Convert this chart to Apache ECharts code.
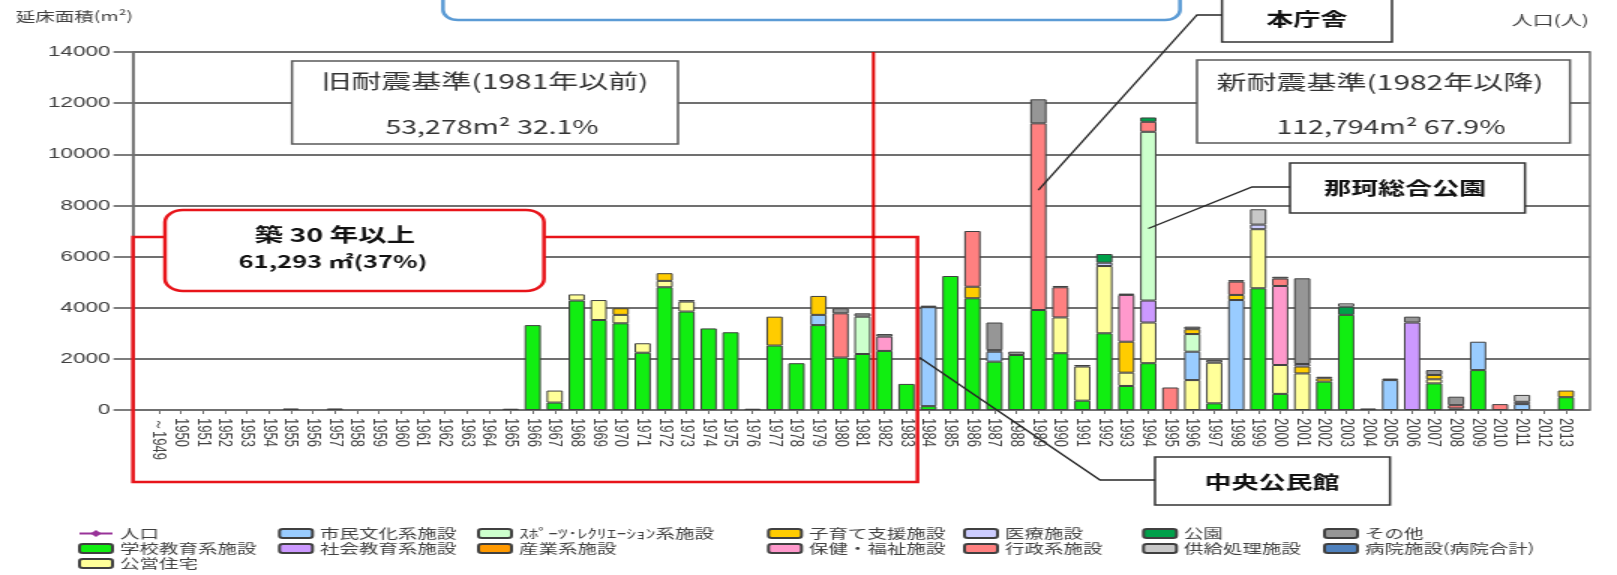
<!DOCTYPE html>
<html>
<head>
<meta charset="utf-8">
<script src="https://cdn.jsdelivr.net/npm/echarts@6/dist/echarts.min.js"></script>
<style>
html, body { margin: 0; padding: 0; background: #fff; overflow: hidden; }
/* 元の図は横に引き伸ばされているので、チャートも横に 1.5 倍して表示 */
#main { width: 1078px; height: 575px; transform: scaleX(1.5); transform-origin: 0 0; }
</style>
</head>
<body>
<div id="main"></div>
<script>
// 年別 延床面積 積み上げ棒グラフ
var myChart = echarts.init(document.getElementById("main"));

var S = 1.5; // 横方向の引き伸ばし率
function rx(x) { return x / S; } // 画面上の x -> チャート内の x

var years = [
	"～1949",
	"1950", "1951", "1952", "1953", "1954", "1955", "1956", "1957", "1958", "1959",
	"1960", "1961", "1962", "1963", "1964", "1965", "1966", "1967", "1968", "1969",
	"1970", "1971", "1972", "1973", "1974", "1975", "1976", "1977", "1978", "1979",
	"1980", "1981", "1982", "1983", "1984", "1985", "1986", "1987", "1988", "1989",
	"1990", "1991", "1992", "1993", "1994", "1995", "1996", "1997", "1998", "1999",
	"2000", "2001", "2002", "2003", "2004", "2005", "2006", "2007", "2008", "2009",
	"2010", "2011", "2012", "2013"
];

var yTicks = [0, 2000, 4000, 6000, 8000, 10000, 12000, 14000];

// 各施設分類の延床面積 (m2)
var school = [0,
	0, 0, 0, 0, 0, 0, 0, 0, 0, 0,
	0, 0, 0, 0, 0, 0, 3320, 290, 4280, 3520,
	3390, 2240, 4800, 3850, 3190, 3040, 0, 2520, 1830, 3320,
	2050, 2190, 2310, 1020, 150, 5240, 4370, 1890, 2150, 3910,
	2220, 365, 3000, 940, 1830, 0, 0, 260, 0, 4760,
	630, 0, 1110, 3720, 0, 0, 0, 1040, 0, 1560,
	0, 0, 0, 500];
var housing = [0,
	0, 0, 0, 0, 0, 0, 0, 0, 0, 0,
	0, 0, 0, 0, 0, 0, 0, 470, 240, 780,
	330, 370, 250, 390, 0, 0, 0, 0, 0, 0,
	0, 0, 0, 0, 0, 0, 0, 0, 0, 0,
	1400, 1335, 2630, 520, 1590, 0, 1170, 1590, 0, 2310,
	1130, 1430, 0, 0, 0, 0, 0, 160, 0, 0,
	0, 0, 0, 0];
var culture = [0,
	0, 0, 0, 0, 0, 0, 0, 0, 0, 0,
	0, 0, 0, 0, 0, 0, 0, 0, 0, 0,
	0, 0, 0, 0, 0, 0, 0, 0, 0, 400,
	0, 0, 0, 0, 3870, 0, 0, 390, 0, 0,
	0, 0, 0, 0, 0, 0, 1110, 0, 4300, 0,
	0, 0, 0, 0, 0, 1170, 0, 0, 0, 1110,
	0, 230, 0, 0];
var socialEdu = [0,
	0, 0, 0, 0, 0, 0, 0, 0, 0, 0,
	0, 0, 0, 0, 0, 0, 0, 0, 0, 0,
	0, 0, 0, 0, 0, 0, 0, 0, 0, 0,
	0, 0, 0, 0, 0, 0, 0, 0, 0, 0,
	0, 0, 0, 0, 860, 0, 0, 0, 0, 0,
	0, 0, 0, 0, 0, 0, 3420, 0, 0, 0,
	0, 0, 0, 0];
var sports = [0,
	0, 0, 0, 0, 0, 0, 0, 0, 0, 0,
	0, 0, 0, 0, 0, 0, 0, 0, 0, 0,
	0, 0, 0, 0, 0, 0, 0, 0, 0, 0,
	0, 1460, 0, 0, 0, 0, 0, 0, 0, 0,
	0, 0, 0, 0, 6600, 0, 690, 0, 0, 0,
	0, 0, 0, 0, 0, 0, 0, 0, 0, 0,
	0, 0, 0, 0];
var industry = [0,
	0, 0, 0, 0, 0, 0, 0, 0, 0, 0,
	0, 0, 0, 0, 0, 0, 0, 0, 0, 0,
	0, 0, 0, 0, 0, 0, 0, 0, 0, 0,
	0, 0, 0, 0, 0, 0, 0, 0, 0, 0,
	0, 0, 0, 0, 0, 0, 0, 0, 0, 0,
	0, 0, 0, 0, 0, 0, 0, 0, 0, 0,
	0, 0, 0, 0];
var childcare = [0,
	0, 0, 0, 0, 0, 0, 0, 0, 0, 0,
	0, 0, 0, 0, 0, 0, 0, 0, 0, 0,
	260, 0, 300, 0, 0, 0, 0, 1130, 0, 740,
	0, 0, 0, 0, 0, 0, 450, 0, 0, 0,
	0, 0, 0, 1210, 0, 0, 190, 0, 200, 0,
	0, 270, 130, 0, 0, 0, 0, 170, 0, 0,
	0, 0, 0, 260];
var welfare = [0,
	0, 0, 0, 0, 0, 0, 0, 0, 0, 0,
	0, 0, 0, 0, 0, 0, 0, 0, 0, 0,
	0, 0, 0, 0, 0, 0, 0, 0, 0, 0,
	0, 0, 560, 0, 0, 0, 0, 0, 0, 0,
	0, 0, 0, 1830, 0, 0, 0, 0, 0, 0,
	3090, 0, 0, 0, 0, 0, 0, 0, 0, 0,
	0, 0, 0, 0];
var medical = [0,
	0, 0, 0, 0, 0, 0, 0, 0, 0, 0,
	0, 0, 0, 0, 0, 0, 0, 0, 0, 0,
	0, 0, 0, 60, 0, 0, 0, 0, 0, 0,
	0, 0, 0, 0, 0, 0, 0, 60, 0, 0,
	0, 0, 130, 0, 0, 0, 0, 0, 0, 180,
	0, 100, 0, 0, 0, 0, 0, 0, 60, 0,
	0, 90, 0, 0];
var admin = [0,
	0, 0, 0, 0, 0, 0, 0, 0, 0, 0,
	0, 0, 0, 0, 0, 0, 0, 0, 0, 0,
	0, 0, 0, 0, 0, 0, 0, 0, 0, 0,
	1730, 0, 0, 0, 0, 0, 2180, 0, 0, 7300,
	1180, 0, 0, 0, 390, 880, 0, 0, 520, 0,
	290, 0, 0, 0, 0, 0, 0, 0, 130, 0,
	230, 0, 0, 0];
var park = [0,
	0, 0, 0, 0, 0, 0, 0, 0, 0, 0,
	0, 0, 0, 0, 0, 0, 0, 0, 0, 0,
	0, 0, 0, 0, 0, 0, 0, 0, 0, 0,
	0, 0, 0, 0, 0, 0, 0, 0, 0, 0,
	0, 0, 340, 0, 170, 0, 0, 0, 0, 0,
	0, 0, 0, 320, 0, 0, 0, 0, 0, 0,
	0, 0, 0, 0];
var supply = [0,
	0, 0, 0, 0, 0, 0, 0, 0, 0, 0,
	0, 0, 0, 0, 0, 0, 0, 0, 0, 0,
	0, 0, 0, 0, 0, 0, 0, 0, 0, 0,
	0, 0, 0, 0, 0, 0, 0, 0, 0, 0,
	0, 0, 0, 0, 0, 0, 0, 0, 0, 600,
	0, 0, 0, 130, 0, 0, 0, 0, 0, 0,
	0, 270, 0, 0];
var other = [0,
	0, 0, 0, 0, 0, 60, 0, 60, 0, 0,
	0, 0, 0, 0, 0, 50, 0, 0, 0, 0,
	0, 0, 0, 0, 0, 0, 50, 0, 0, 0,
	200, 130, 100, 0, 60, 0, 0, 1080, 130, 940,
	50, 60, 0, 50, 0, 0, 100, 110, 60, 0,
	70, 3350, 60, 0, 60, 60, 230, 190, 330, 0,
	0, 0, 0, 0];
var hospital = [0,
	0, 0, 0, 0, 0, 0, 0, 0, 0, 0,
	0, 0, 0, 0, 0, 0, 0, 0, 0, 0,
	0, 0, 0, 0, 0, 0, 0, 0, 0, 0,
	0, 0, 0, 0, 0, 0, 0, 0, 0, 0,
	0, 0, 0, 0, 0, 0, 0, 0, 0, 0,
	0, 0, 0, 0, 0, 0, 0, 0, 0, 0,
	0, 0, 0, 0];
var population = []; // 人口 (値なし)

// 積み上げ順 (下から)
var stackDefs = [
	["学校教育系施設", school, "#11ee11"],
	["公営住宅", housing, "#ffff99"],
	["市民文化系施設", culture, "#99ccff"],
	["社会教育系施設", socialEdu, "#cc99ff"],
	["ｽﾎﾟｰﾂ･ﾚｸﾘｴｰｼｮﾝ系施設", sports, "#ccffcc"],
	["産業系施設", industry, "#ff9900"],
	["子育て支援施設", childcare, "#ffcc00"],
	["保健・福祉施設", welfare, "#ff99cc"],
	["医療施設", medical, "#ccccff"],
	["行政系施設", admin, "#ff8080"],
	["公園", park, "#00a04a"],
	["供給処理施設", supply, "#c8c8c8"],
	["その他", other, "#969696"],
	["病院施設(病院合計)", hospital, "#4f81bd"]
];

var seriesList = [{
	name: "人口",
	type: "line",
	xAxisIndex: 1,
	yAxisIndex: 2,
	symbol: "diamond",
	symbolSize: 8,
	itemStyle: { color: "#993399" },
	lineStyle: { color: "#993399", width: 2 },
	data: population
}];
stackDefs.forEach(function (d) {
	seriesList.push({
		name: d[0],
		type: "bar",
		stack: "area",
		xAxisIndex: 1,
		yAxisIndex: 1,
		barCategoryGap: "26%",
		itemStyle: { color: d[2], borderColor: "#404040", borderWidth: 1 },
		data: d[1].map(function (v) { return v > 0 ? v : "-"; })
	});
});

// 凡例 (列ごと)
var legendCols = [
	[rx(78), ["人口", "学校教育系施設", "公営住宅"]],
	[rx(278), ["市民文化系施設", "社会教育系施設"]],
	[rx(477), ["ｽﾎﾟｰﾂ･ﾚｸﾘｴｰｼｮﾝ系施設", "産業系施設"]],
	[rx(767), ["子育て支援施設", "保健・福祉施設"]],
	[rx(963), ["医療施設", "行政系施設"]],
	[rx(1142), ["公園", "供給処理施設"]],
	[rx(1323), ["その他", "病院施設(病院合計)"]]
];
var legends = legendCols.map(function (c) {
	return {
		left: c[0],
		top: 526,
		orient: "vertical",
		padding: 0,
		itemGap: 0,
		itemWidth: 22,
		itemHeight: 9,
		selectedMode: false,
		textStyle: { fontSize: 13, lineHeight: 15, color: "#404040", fontFamily: "Noto Sans CJK JP" },
		data: c[1]
	};
});

var gridLine = "#707070";

var option = {
	backgroundColor: "#fff",
	animation: false,
	legend: legends,
	grid: [
		{ // 枠と目盛り用
			left: rx(133), right: 1078 - rx(1590), top: 52, bottom: 165,
			show: true, borderColor: gridLine, borderWidth: 1.5,
			outerBoundsMode: "none"
		},
		{ // 棒グラフ用
			left: rx(148), right: 1078 - rx(1577), top: 52, bottom: 165,
			outerBoundsMode: "none"
		}
	],
	xAxis: [
		{ gridIndex: 0, type: "category", data: [""], show: false },
		{
			gridIndex: 1,
			type: "category",
			data: years,
			axisLine: { show: false },
			axisTick: { show: true, alignWithLabel: true, length: 4, lineStyle: { color: gridLine } },
			axisLabel: {
				rotate: -90,
				interval: 0,
				hideOverlap: false,
				margin: 8,
				fontSize: 13,
				color: "#404040",
				fontFamily: "Liberation Sans"
			}
		}
	],
	yAxis: [
		{
			gridIndex: 0,
			type: "value",
			min: yTicks[0],
			max: yTicks[yTicks.length - 1],
			interval: yTicks[1] - yTicks[0],
			name: "延床面積(m²)",
			nameLocation: "end",
			nameGap: 29,
			nameTextStyle: { align: "right", fontSize: 13, color: "#404040", fontFamily: "Noto Sans CJK JP" },
			axisLine: { show: true, lineStyle: { color: gridLine, width: 1.5 } },
			axisTick: { show: true, length: 13, lineStyle: { color: gridLine, width: 1.8 } },
			axisLabel: {
				margin: 15, fontSize: 15, color: "#404040", fontFamily: "Liberation Sans",
				formatter: function (v) { return String(v); }
			},
			splitLine: { lineStyle: { color: gridLine, width: 1.8 } }
		},
		{
			gridIndex: 1,
			type: "value",
			min: yTicks[0],
			max: yTicks[yTicks.length - 1],
			show: false
		},
		{ // 人口 (右軸, 目盛りなし)
			gridIndex: 1,
			type: "value",
			position: "right",
			min: 0,
			max: 70000,
			axisLine: { show: false },
			axisTick: { show: false },
			axisLabel: { show: false },
			splitLine: { show: false }
		}
	],
	series: seriesList
};
myChart.setOption(option);

// 注記 (枠・引出線) はグラフ上の位置から計算
function px(yr) { return myChart.convertToPixel({ xAxisIndex: 1 }, yr); }
function py(v) { return myChart.convertToPixel({ yAxisIndex: 1 }, v); }

function box(x1, y1, x2, y2, stroke, lw, r, z) {
	return {
		type: "rect", z: z || 100, silent: true,
		shape: { x: rx(x1), y: y1, width: rx(x2 - x1), height: y2 - y1, r: r || 0 },
		style: { fill: "#fff", stroke: stroke, lineWidth: lw }
	};
}
function label(text, x, y, size, color, weight, align) {
	return {
		type: "text", z: 102, silent: true,
		x: rx(x), y: y,
		style: {
			text: text, fill: color, fontSize: size, fontWeight: weight || "normal",
			fontFamily: "Noto Sans CJK JP",
			align: align || "center", verticalAlign: "middle",
			textAlign: align || "center", textVerticalAlign: "middle"
		}
	};
}
function leader(points) {
	return {
		type: "polyline", z: 103, silent: true,
		shape: { points: points },
		style: { fill: null, stroke: "#262626", lineWidth: 1.3 }
	};
}

var xSplit = (px("1981") + px("1982")) / 2;
var xOld = (px("1983") + px("1984")) / 2;
var redLine = "#e8141a";

myChart.setOption({
	graphic: [
		// 右軸の名前
		label("人口(人)", 1589, 20, 14, "#404040", "normal", "right"),
		// 上部の青枠
		{
			type: "rect", z: 100, silent: true,
			shape: { x: rx(443), y: -20, width: rx(1180 - 443), height: 40, r: 10 },
			style: { fill: "none", stroke: "#5b9bd5", lineWidth: 2.5 }
		},
		// 築30年以上の範囲
		{
			type: "rect", z: 100, silent: true,
			shape: { x: rx(133), y: 237, width: xOld - rx(133), height: 482 - 237 },
			style: { fill: "none", stroke: redLine, lineWidth: 2.5 }
		},
		box(165, 210, 544, 291, redLine, 2.5, 12, 101),
		label("築 30 年以上", 335, 235, 19, "#111", "bold"),
		label("61,293 ㎡(37%)", 333, 262, 17, "#111", "bold"),
		// 旧耐震 / 新耐震
		box(292, 61, 678, 144, "#595959", 1.5),
		label("旧耐震基準(1981年以前)", 485, 81, 20, "#333"),
		label("53,278m² 32.1%", 492, 127, 19, "#333"),
		box(1197, 60, 1570, 143, "#595959", 1.5),
		label("新耐震基準(1982年以降)", 1380, 82, 20, "#333"),
		label("112,794m² 67.9%", 1391, 127, 19, "#333"),
		// 旧耐震と新耐震の境
		{
			type: "line", z: 104, silent: true,
			shape: { x1: xSplit, y1: py(14000), x2: xSplit, y2: py(0) },
			style: { stroke: "#e00000", lineWidth: 2 }
		},
		// 施設名の吹き出し
		box(1222, -3, 1392, 42, "#333", 1.5),
		label("本庁舎", 1307, 19, 18, "#111", "bold"),
		leader([[rx(1222), 15], [rx(1197), 15], [px("1989"), py(8600)]]),
		box(1290, 163, 1525, 213, "#333", 1.5),
		label("那珂総合公園", 1405, 188, 18, "#111", "bold"),
		leader([[rx(1290), 187], [rx(1252), 187], [px("1994"), py(7100)]]),
		box(1155, 457, 1390, 505, "#333", 1.5),
		label("中央公民館", 1272, 482, 18, "#111", "bold"),
		leader([[px("1984") - 6, py(2050)], [rx(1100), 480], [rx(1155), 480]])
	]
});
</script>
</body>
</html>
